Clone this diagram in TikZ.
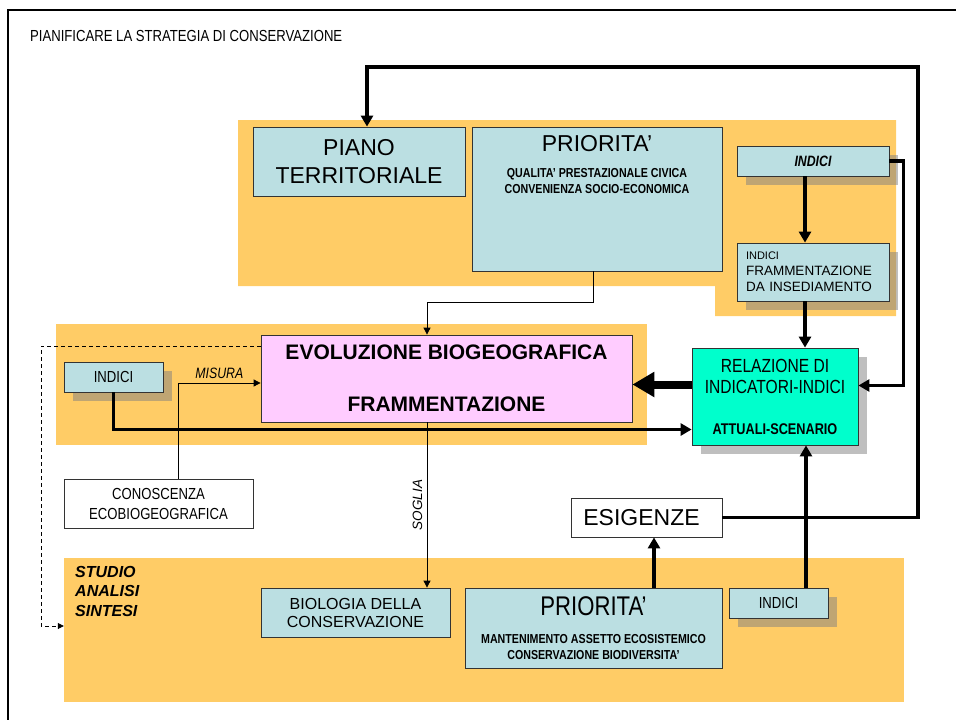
\documentclass[tikz,border=0pt]{standalone}
\usepackage{fontspec}
\setmainfont{Liberation Sans}
\newfontfamily\narrowfont{Liberation Sans}[FakeStretch=0.82]
\usetikzlibrary{shapes,arrows.meta,shadows}
\definecolor{orange1}{RGB}{255,204,102}
\definecolor{boxblue}{RGB}{187,223,226}
\definecolor{pinkbox}{RGB}{255,204,255}
\definecolor{greenbox}{RGB}{0,255,204}
\newcommand{\fsize}[2]{\fontsize{#1}{#2}\selectfont}
\tikzstyle{area} = [fill = orange1]
\tikzstyle{block} =
        [
                rectangle,
                draw = black!80,
                fill = boxblue,
                line width = 0.8pt,
                align = center,
                inner sep = 0pt
        ]
\tikzstyle{boxshadow} =
        [
                drop shadow = {shadow xshift=8.5pt, shadow yshift=-8.5pt, fill=black!50, opacity=.5}
        ]
\tikzstyle{line} =
        [
                line width = 3.5pt,
                draw = black,
                -{Triangle[length=11pt,width=12pt]}
        ]
\tikzstyle{bigline} = [line width = 8pt, -{Triangle[length=22pt,width=24pt]}]
\tikzstyle{thinline} = [line width = 0.8pt, -{Triangle[length=7pt,width=7pt]}]
\tikzstyle{dashline} = [line width = 0.8pt, dash pattern = on 4pt off 3pt, -{Triangle[length=6pt,width=6pt]}]

\begin{document}
\begin{tikzpicture}[x=1pt, y=-1pt]
    \useasboundingbox (0,0) rectangle (956,720);
    \draw [line width = 2pt] (8,720) -- (8,10) -- (956,10);
    \node [anchor=west, inner sep=0pt, font=\narrowfont\fsize{16}{19}] (title) at (30,36) {PIANIFICARE LA STRATEGIA DI CONSERVAZIONE};
    % orange areas
    \fill [area] (238,120) -- (896,120) -- (896,316) -- (715,316) -- (715,286) -- (238,286) -- cycle;
    \fill [area] (56,324) rectangle (647,445);
    \node [area, minimum width=840pt, minimum height=144pt, inner sep=0pt] (studio) at (484,630) {};
    \node [anchor=north west, align=left, inner sep=0pt, font=\fsize{16}{19.5}\bfseries\itshape] (studiotxt) at (75,566) {STUDIO\\ANALISI\\SINTESI};
    % boxes
    \node [block, minimum width=212pt, minimum height=69pt, font=\fsize{23}{28}] (piano) at (359,161.5) {PIANO\\TERRITORIALE};
    \node [block, minimum width=250pt, minimum height=144pt] (prio1) at (597,199) {};
    \node [font=\fsize{23}{25}] (prio1t) at ([yshift=-17pt]prio1.north) {PRIORITA’};
    \node [align=center, font=\narrowfont\bfseries\fsize{13}{16}] (prio1s) at ([yshift=-54pt]prio1.north) {QUALITA’ PRESTAZIONALE CIVICA\\CONVENIENZA SOCIO-ECONOMICA};
    \node [block, boxshadow, minimum width=152pt, minimum height=30pt, font=\narrowfont\fsize{15}{18}\bfseries\itshape] (indtop) at (813,161) {INDICI};
    \node [block, boxshadow, minimum width=152pt, minimum height=58pt, text width=134pt, align=left, font=\fsize{13.5}{16}] (indfram) at (813,272) {{\fsize{11}{13}INDICI}\\FRAMMENTAZIONE\\DA INSEDIAMENTO};
    \node [block, boxshadow, fill=greenbox, minimum width=166pt, minimum height=97pt, font=\narrowfont\fsize{19}{21}] (relaz) at (775,396.5) {RELAZIONE DI\\INDICATORI-INDICI\\[20pt]{\bfseries\fsize{15.5}{18}ATTUALI-SCENARIO}};
    \node [block, fill=pinkbox, minimum width=371pt, minimum height=87pt, font=\bfseries\fsize{21}{26}] (evol) at (446.5,378.5) {EVOLUZIONE BIOGEOGRAFICA\\[26pt]FRAMMENTAZIONE};
    \node [block, boxshadow, minimum width=99pt, minimum height=30pt, font=\narrowfont\fsize{16}{18}] (indleft) at (113.5,377) {INDICI};
    \node [block, fill=white, minimum width=189pt, minimum height=49pt, font=\narrowfont\fsize{16}{20}] (conosc) at (158.5,503.5) {CONOSCENZA\\ECOBIOGEOGRAFICA};
    \node [block, fill=white, minimum width=151pt, minimum height=39pt, font=\fsize{23}{25}] (esig) at (646.5,517.5) {ESIGENZE\hspace*{10pt}};
    \node [block, minimum width=189pt, minimum height=49pt, font=\fsize{16}{18}] (biol) at (355.5,612.5) {BIOLOGIA DELLA\\CONSERVAZIONE};
    \node [block, minimum width=257pt, minimum height=80pt] (prio2) at (593.5,628) {};
    \node [font=\narrowfont\fsize{27}{29}] (prio2t) at ([yshift=-19pt]prio2.north) {PRIORITA’};
    \node [align=center, font=\narrowfont\bfseries\fsize{13}{16}] (prio2s) at ([yshift=-59pt]prio2.north) {MANTENIMENTO ASSETTO ECOSISTEMICO\\CONSERVAZIONE BIODIVERSITA’};
    \node [block, boxshadow, minimum width=99pt, minimum height=30pt, font=\narrowfont\fsize{16}{18}] (indbot) at (778.5,603) {INDICI};
    % connectors
    \draw [line] (esig.east) -| (918,67) -| ([xshift=8pt]piano.north);
    \draw [line] ([xshift=-8pt]indtop.south) -- ([xshift=-8pt]indfram.north);
    \draw [line] ([xshift=-8pt]indfram.south) -- ([xshift=-8pt]indfram.south |- relaz.north);
    \draw [line] (indtop.east) -- ++(14,0) |- ([yshift=11pt]relaz.east);
    \draw [bigline] ([yshift=12pt]relaz.west) -- ([yshift=12pt]relaz.west -| evol.east);
    \draw [line] (indleft.south) |- ([yshift=-33pt]relaz.west);
    \draw [thinline] ([xshift=-4pt]prio1.south) -- ++(0,31) -| ([xshift=-19.5pt]evol.north);
    \draw [thinline] ([xshift=19.5pt]conosc.north) |- node [pos=0.75, above=1pt, font=\narrowfont\itshape\fsize{15}{17}] (misura) {MISURA} ([yshift=-4.5pt]evol.west);
    \draw [thinline] ([xshift=-19.5pt]evol.south) -- node [midway, rotate=90, above=1pt, font=\itshape\fsize{13.5}{15}] (soglia) {SOGLIA} ([xshift=-19.5pt]evol.south |- biol.north);
    \draw [dashline] (evol.west |- 0,346) -| (41,626) -- (studio.west |- 0,626);
    \draw [line] ([xshift=60.5pt]prio2.north) -- ([xshift=60.5pt]prio2.north |- esig.south);
    \draw [line] ([xshift=27.5pt]indbot.north) -- ([xshift=27.5pt]indbot.north |- relaz.south);
\end{tikzpicture}
\end{document}
